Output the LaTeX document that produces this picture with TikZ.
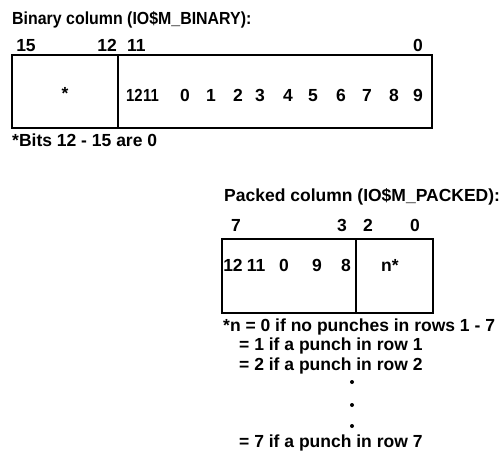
\documentclass[tikz,border=0pt]{standalone}
\usepackage{fontspec}
\setmainfont{Liberation Sans}
\begin{document}
\begin{tikzpicture}[x=1pt,y=-1pt,
  every node/.style={inner sep=0pt, font=\fontsize{17.5}{20}\selectfont\bfseries},
  txt/.style={anchor=base west},
  dig/.style={anchor=base},
  boxline/.style={line width=1.8pt}]
\useasboundingbox (0,0) rectangle (499,452);
% Binary column
\node[txt] (btitle) at (12,25) {\scalebox{0.91}[1]{Binary column (IO\$M\_BINARY):}};
\node[dig] (b15) at (26,52) {15};
\node[anchor=base east] (b12) at (117,52) {12};
\node[anchor=base west] (b11) at (127,52) {11};
\node[dig] (b0) at (418,52) {0};
\draw[boxline] (12,55) rectangle (432,128);
\draw[boxline] (118,55) -- (118,128);
\node[dig] (bstar) at (65,100) {*};
\node[dig] (c12) at (134.5,102) {\scalebox{0.85}[1]{12}};
\node[dig] (c11) at (151,102) {\scalebox{0.85}[1]{11}};
\foreach \d/\x in {0/185,1/211,2/238,3/260,4/288,5/313,6/341,7/367,8/394,9/418}
  \node[dig] (bc\d) at (\x,102) {\d};
\node[txt] (bnote) at (12,147) {*Bits 12 - 15 are 0};
% Packed column
\node[txt] (ptitle) at (224,202) {Packed column (IO\$M\_PACKED):};
\node[dig] (p7) at (236,232) {7};
\node[dig] (p3) at (342,232) {3};
\node[dig] (p2) at (368,232) {2};
\node[dig] (p0) at (415,232) {0};
\draw[boxline] (222,239) rectangle (433,313);
\draw[boxline] (356,239) -- (356,313);
\node[dig] (q12) at (233,272) {12};
\node[dig] (q11) at (256,272) {11};
\node[dig] (q0) at (284,272) {0};
\node[dig] (q9) at (317,272) {9};
\node[dig] (q8) at (346,272) {8};
\node[anchor=base west] (qn) at (381,272) {n*};
\node[txt] (n0) at (223,331) {*n = 0 if no punches in rows 1 - 7};
\node[txt] (n1) at (239,350) {= 1 if a punch in row 1};
\node[txt] (n2) at (239,370) {= 2 if a punch in row 2};
\foreach \y [count=\i] in {382,405,426}
  \fill (352,\y) circle (2pt) coordinate (dot\i);
\node[txt] (n7) at (239,447) {= 7 if a punch in row 7};
\end{tikzpicture}
\end{document}
